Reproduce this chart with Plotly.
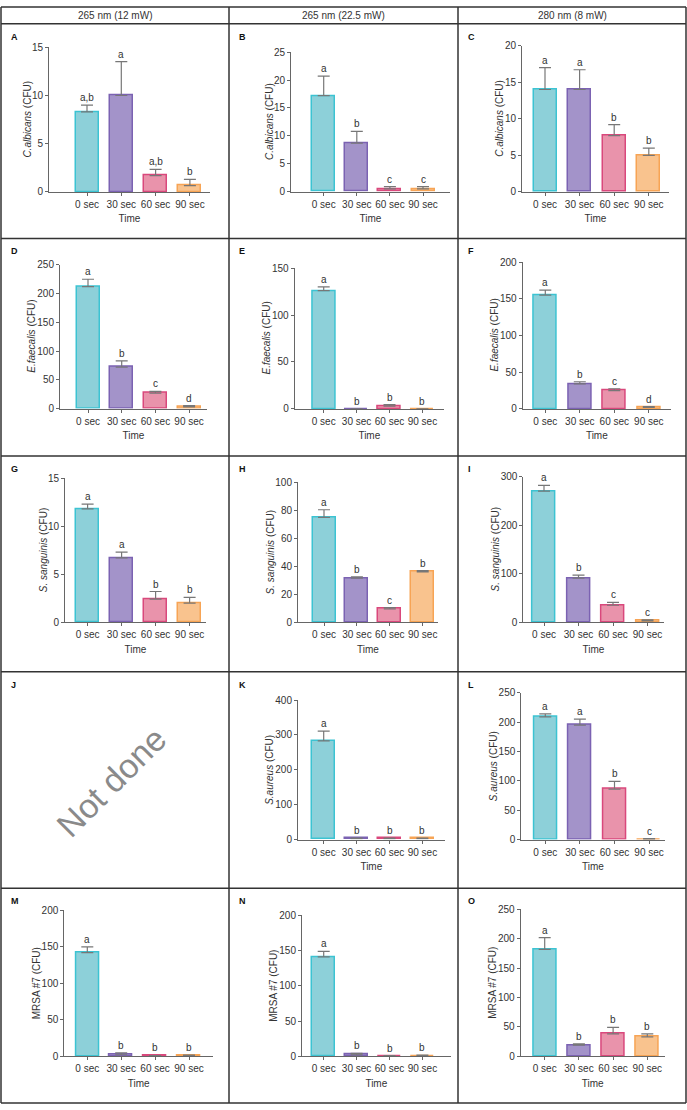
import plotly.graph_objects as go

W, H = 687, 1110

# ---------------- data ----------------
categories = ["0 sec", "30 sec", "60 sec", "90 sec"]
column_headers = ["265 nm (12 mW)", "265 nm (22.5 mW)", "280 nm (8 mW)"]
panel_ids = ["A", "B", "C", "D", "E", "F", "G", "H", "I", "K", "L", "M", "N", "O"]

species = {
    "A": "C.albicans", "B": "C.albicans", "C": "C.albicans",
    "D": "E.faecalis", "E": "E.faecalis", "F": "E.faecalis",
    "G": "S. sanguinis", "H": "S. sanguinis", "I": "S. sanguinis",
    "K": "S.aureus", "L": "S.aureus",
    "M": "MRSA #7", "N": "MRSA #7", "O": "MRSA #7",
}
italic = {"A": True, "B": True, "C": True, "D": True, "E": True, "F": True,
          "G": True, "H": True, "I": True, "K": True, "L": True,
          "M": False, "N": False, "O": False}

means_A = [8.3, 10.0, 1.7, 0.65]
err_A = [0.7, 3.5, 0.65, 0.65]
means_B = [17.2, 8.7, 0.5, 0.5]
err_B = [3.5, 2.1, 0.4, 0.4]
means_C = [14.0, 14.0, 7.7, 5.0]
err_C = [3.0, 2.7, 1.5, 1.0]
means_D = [212, 72, 27, 3]
err_D = [13, 11, 3, 2]
means_E = [126, 0, 3, 0]
err_E = [4, None, 1.5, None]
means_F = [155, 34, 25, 2]
err_F = [7, 3, 2.5, 1]
means_G = [11.8, 6.7, 2.4, 2.0]
err_G = [0.5, 0.6, 0.8, 0.6]
means_H = [75, 31.5, 9.5, 36]
err_H = [5.5, 1.0, 1.0, 1.0]
means_I = [270, 91, 35, 3]
err_I = [12, 6, 6, 2]
means_K = [283, 3, 3, 3]
err_K = [28, 1, 1, 1]
means_L = [209, 195, 86, 0.5]
err_L = [5, 10, 13, 1]
means_M = [142, 2, 0.5, 1]
err_M = [8, 2.5, 0.5, 0.5]
means_N = [141, 2, 0.5, 0.5]
err_N = [8, 2, 0.5, 1]
means_O = [182, 19, 38, 33]
err_O = [20, 2, 11, 5]

letters_A = ["a,b", "a", "a,b", "b"]
letters_B = ["a", "b", "c", "c"]
letters_C = ["a", "a", "b", "b"]
letters_D = ["a", "b", "c", "d"]
letters_E = ["a", "b", "b", "b"]
letters_F = ["a", "b", "c", "d"]
letters_G = ["a", "a", "b", "b"]
letters_H = ["a", "b", "c", "b"]
letters_I = ["a", "b", "c", "c"]
letters_K = ["a", "b", "b", "b"]
letters_L = ["a", "a", "b", "c"]
letters_M = ["a", "b", "b", "b"]
letters_N = ["a", "b", "b", "b"]
letters_O = ["a", "b", "b", "b"]

ymax = {"A": 15, "B": 25, "C": 20, "D": 250, "E": 150, "F": 200, "G": 15, "H": 100,
        "I": 300, "K": 400, "L": 250, "M": 200, "N": 200, "O": 250}
ydtick = {"A": 5, "B": 5, "C": 5, "D": 50, "E": 50, "F": 50, "G": 5, "H": 20,
          "I": 100, "K": 100, "L": 50, "M": 50, "N": 50, "O": 50}

means = {"A": means_A, "B": means_B, "C": means_C, "D": means_D, "E": means_E, "F": means_F,
         "G": means_G, "H": means_H, "I": means_I, "K": means_K, "L": means_L,
         "M": means_M, "N": means_N, "O": means_O}
errs = {"A": err_A, "B": err_B, "C": err_C, "D": err_D, "E": err_E, "F": err_F,
        "G": err_G, "H": err_H, "I": err_I, "K": err_K, "L": err_L,
        "M": err_M, "N": err_N, "O": err_O}
letters = {"A": letters_A, "B": letters_B, "C": letters_C, "D": letters_D, "E": letters_E,
           "F": letters_F, "G": letters_G, "H": letters_H, "I": letters_I, "K": letters_K,
           "L": letters_L, "M": letters_M, "N": letters_N, "O": letters_O}

# ---------------- layout geometry (pixels) ----------------
# axis start x, axis end x, first bar center, bar spacing, plot top y, zero y, y-title x
geom = {
    "A": (49, 210, 87, 34.3, 41.7, 188, 28),
    "B": (291, 450, 323.7, 33.1, 46.7, 187.7, 270),
    "C": (522, 669, 545, 34.6, 40, 188, 500),
    "D": (60, 207, 88, 33.7, 261.7, 407, 32),
    "E": (294.7, 444, 323.7, 32.9, 265, 407.3, 267),
    "F": (522.7, 671, 545.3, 34.5, 259, 407.3, 495),
    "G": (65, 206, 87.6, 34.0, 477.3, 623, 43),
    "H": (298, 438, 324, 32.9, 481.7, 623, 270),
    "I": (523.4, 663.6, 544, 34.5, 475.7, 623, 495),
    "K": (298, 444.7, 323.7, 32.9, 701.7, 842.7, 270),
    "L": (521.3, 664.7, 545.3, 34.6, 694.3, 842.7, 493),
    "M": (64.3, 213, 87.3, 33.9, 914.3, 1061.7, 36),
    "N": (302, 450.7, 323.7, 32.9, 919.3, 1061.7, 274),
    "O": (520.7, 664.7, 544.7, 34.2, 913.3, 1061.7, 493),
}
col_x = [1, 229, 458, 686]
row_y = [1, 18, 235, 455, 673, 892, 1109]
panel_pos = {"A": (0, 1), "B": (1, 1), "C": (2, 1), "D": (0, 2), "E": (1, 2), "F": (2, 2),
             "G": (0, 3), "H": (1, 3), "I": (2, 3), "J": (0, 4), "K": (1, 4), "L": (2, 4),
             "M": (0, 5), "N": (1, 5), "O": (2, 5)}

fill_colors = ["#8dd0d9", "#a393c9", "#e993ab", "#f9c38e"]
line_colors = ["#3cc3d2", "#7b62b2", "#d9487c", "#f7a455"]

FONT = "Arial, Liberation Sans, sans-serif"
TXT = "#333333"
AX = "#666666"

fig = go.Figure()
layout = dict(
    width=W, height=H, margin=dict(l=0, r=0, t=0, b=0),
    paper_bgcolor="white", plot_bgcolor="white", showlegend=False,
    font=dict(family=FONT, size=10, color=TXT),
)
annotations = []
shapes = []

for k, pid in enumerate(panel_ids):
    n = k + 1
    xa = "x" if n == 1 else f"x{n}"
    ya = "y" if n == 1 else f"y{n}"
    ax0, ax1, c0, sp, top, zero, tx = geom[pid]
    lo = (ax0 - c0) / sp
    hi = (ax1 - c0) / sp
    bw = 23 / sp
    fig.add_trace(go.Bar(
        x=[0, 1, 2, 3], y=means[pid], width=bw,
        marker=dict(color=fill_colors, line=dict(color=line_colors, width=1.5)),
        error_y=dict(type="data", symmetric=False, array=errs[pid],
                     arrayminus=[0, 0, 0, 0], color="#777777", thickness=1.2, width=6),
        xaxis=xa, yaxis=ya, hoverinfo="skip",
    ))
    lab = species[pid]
    ytitle = (f"<i>{lab}</i> (CFU)" if italic[pid] else f"{lab} (CFU)")
    layout["xaxis" if n == 1 else f"xaxis{n}"] = dict(
        domain=[ax0 / W, ax1 / W], range=[lo, hi], anchor=ya,
        tickvals=[0, 1, 2, 3], ticktext=categories,
        showline=True, linecolor=AX, linewidth=1, ticks="outside", ticklen=3,
        tickcolor=AX, showgrid=False, zeroline=False, fixedrange=True,
        tickfont=dict(size=10, color=TXT),
        title=dict(text="Time", font=dict(size=10, color=TXT), standoff=6),
    )
    layout["yaxis" if n == 1 else f"yaxis{n}"] = dict(
        domain=[1 - zero / H, 1 - top / H], range=[0, ymax[pid]], anchor=xa,
        tick0=0, dtick=ydtick[pid],
        showline=True, linecolor=AX, linewidth=1, ticks="outside", ticklen=3,
        tickcolor=AX, showgrid=False, zeroline=False, fixedrange=True,
        tickfont=dict(size=10, color=TXT),
    )
    annotations.append(dict(
        x=tx / W, y=1 - (top + zero) / 2 / H, xref="paper", yref="paper",
        text=ytitle, showarrow=False, textangle=-90, xanchor="center", yanchor="middle",
        font=dict(size=10, color=TXT),
    ))
    for i in range(4):
        e = errs[pid][i] or 0
        annotations.append(dict(
            x=i, y=means[pid][i] + e, xref=xa, yref=ya,
            text=letters[pid][i], showarrow=False, yanchor="bottom", yshift=0,
            font=dict(size=10, color=TXT),
        ))

# panel labels
for pid, (c, r) in panel_pos.items():
    annotations.append(dict(
        x=(col_x[c] + 8) / W, y=1 - (row_y[r] + 6) / H, xref="paper", yref="paper",
        text=f"<b>{pid}</b>", showarrow=False, xanchor="left", yanchor="top",
        font=dict(size=9, color="#111111"),
    ))

# column headers
for c, h in enumerate(column_headers):
    annotations.append(dict(
        x=(col_x[c] + col_x[c + 1]) / 2 / W, y=1 - 9.5 / H, xref="paper", yref="paper",
        text=h, showarrow=False, xanchor="center", yanchor="middle",
        font=dict(size=10, color=TXT),
    ))

# Not done
annotations.append(dict(
    x=111 / W, y=1 - 784 / H, xref="paper", yref="paper", text="Not done",
    showarrow=False, textangle=-45, xanchor="center", yanchor="middle",
    font=dict(size=34, color="#8a8a8a"),
))

# grid borders
for x in col_x:
    shapes.append(dict(type="line", xref="paper", yref="paper", x0=x / W, x1=x / W,
                       y0=1 - row_y[0] / H, y1=1 - row_y[-1] / H,
                       line=dict(color="#333333", width=1.5)))
for y in row_y:
    shapes.append(dict(type="line", xref="paper", yref="paper", x0=col_x[0] / W, x1=col_x[-1] / W,
                       y0=1 - y / H, y1=1 - y / H, line=dict(color="#333333", width=1.5)))

layout["annotations"] = annotations
layout["shapes"] = shapes
layout["bargap"] = 0
fig.update_layout(**layout)
fig.write_html("out.html", config={"displayModeBar": False},
               post_script="document.body.style.margin='0';")
